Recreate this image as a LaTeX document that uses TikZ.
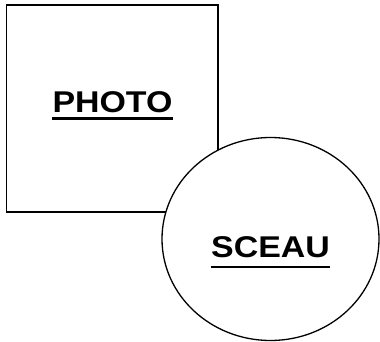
\documentclass[tikz,border=0pt]{standalone}
\usepackage{fontspec}
\newfontfamily\titrefont[FakeStretch=1.13]{Liberation Sans}
\usetikzlibrary{shapes.geometric}

\begin{document}
\begin{tikzpicture}[x=1pt,y=-1pt,
  cadre/.style={draw,line width=1.3pt,fill=white,inner sep=0pt},
  titre/.style={font=\titrefont\bfseries\fontsize{30}{30}\selectfont,inner sep=0pt,anchor=base},
  souligne/.style={line width=2.4pt}
]
\useasboundingbox (0,0) rectangle (380,342);
\node[cadre,rectangle,minimum width=211.5pt,minimum height=207pt] (photo) at (112.25,108.5) {};
\node[cadre,ellipse,minimum width=217pt,minimum height=203pt] (sceau) at (270.5,239) {};
\node[titre] (tphoto) at (112.5,112.3) {PHOTO};
\node[titre] (tsceau) at (270.5,257.3) {SCEAU};
\draw[souligne] ([yshift=-6.2pt]tphoto.base west) -- ([yshift=-6.2pt]tphoto.base east);
\draw[souligne] ([yshift=-9.7pt]tsceau.base west) -- ([yshift=-9.7pt]tsceau.base east);
\end{tikzpicture}
\end{document}
